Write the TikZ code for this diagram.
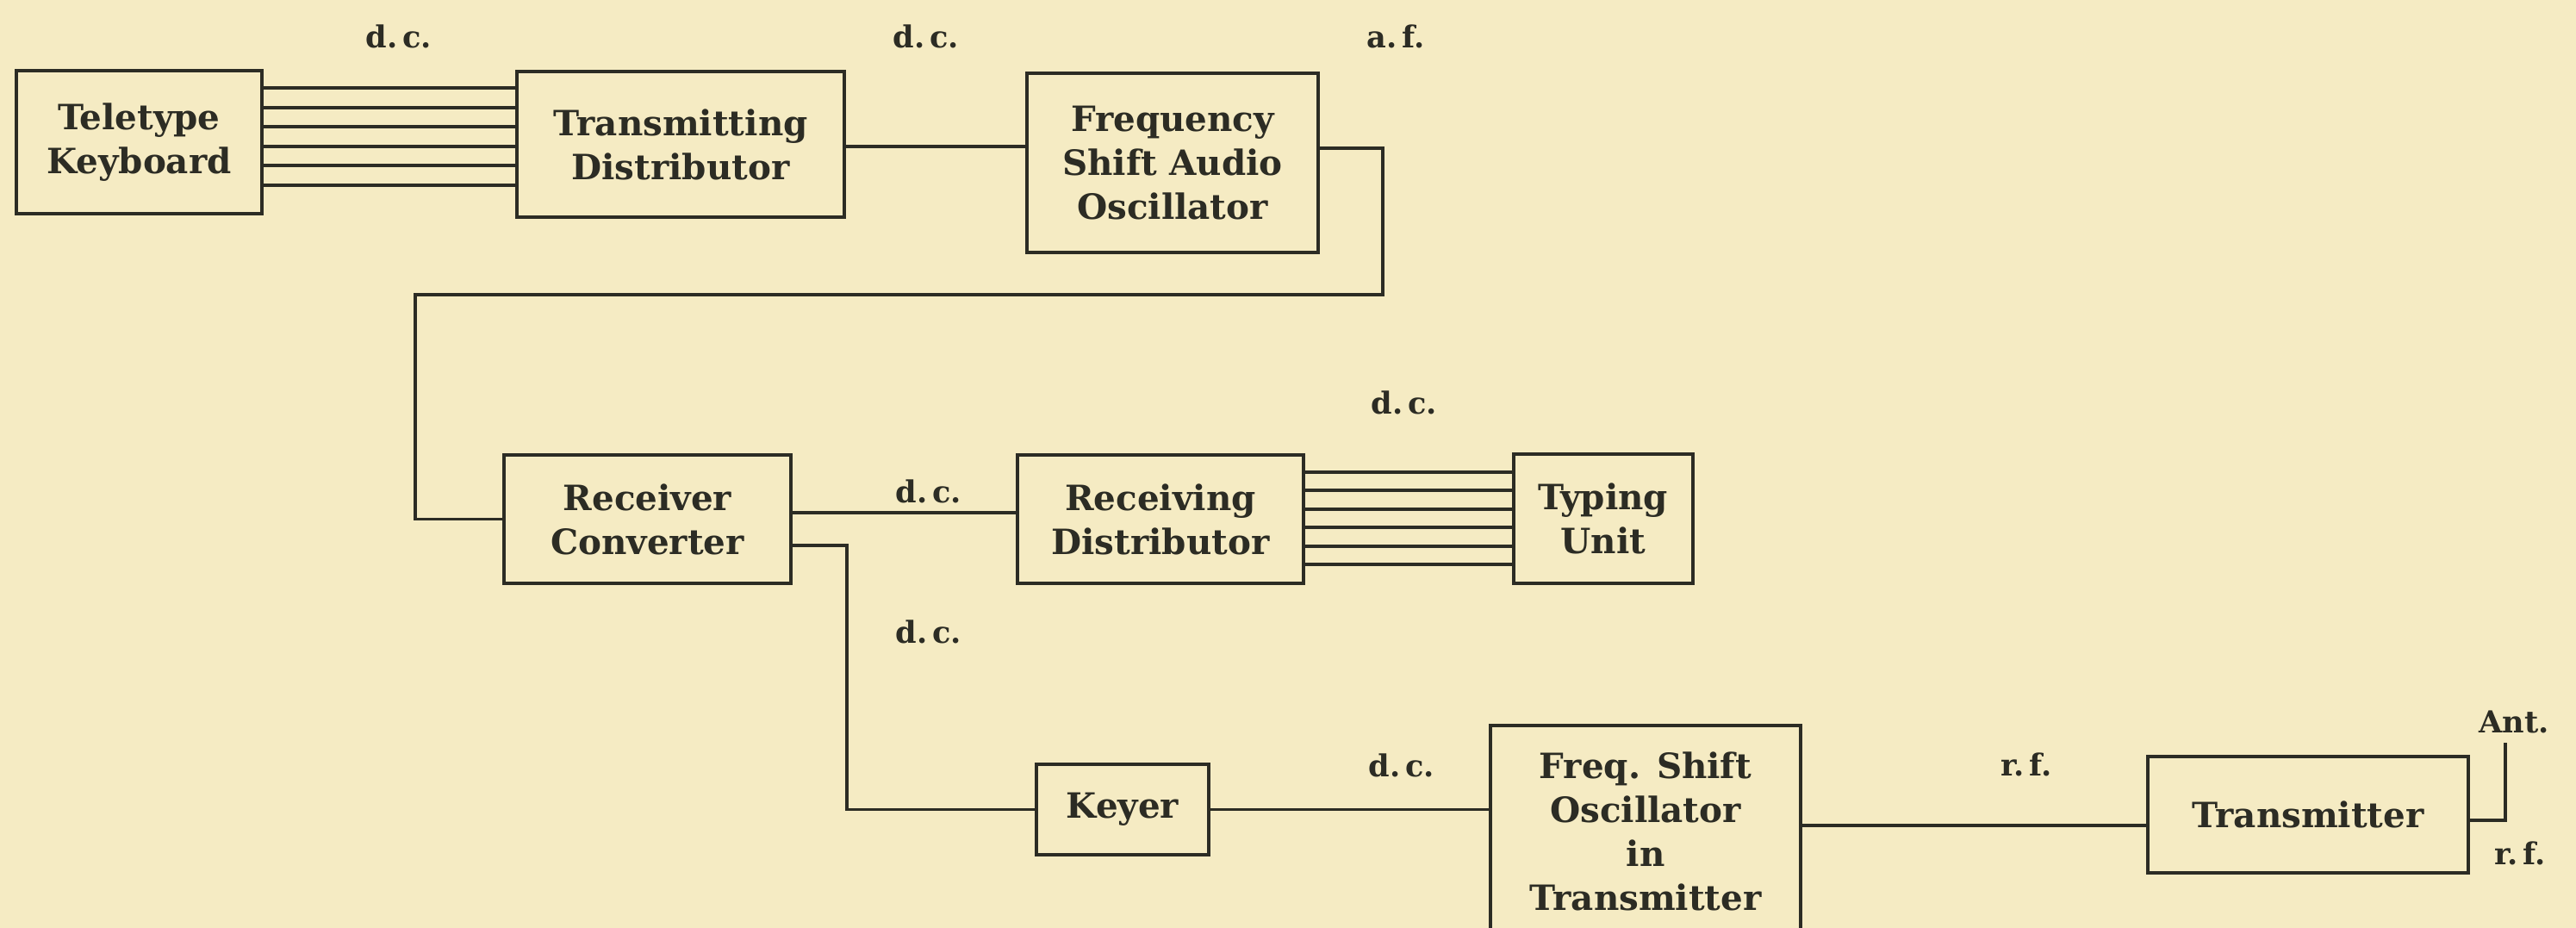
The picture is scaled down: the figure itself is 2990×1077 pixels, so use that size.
\documentclass[tikz,border=0pt]{standalone}
\usepackage{fontspec}
\setmainfont{DejaVu Serif}
\usetikzlibrary{calc}
\definecolor{paper}{HTML}{F5EBC3}
\definecolor{ink}{HTML}{2C2C24}

\begin{document}
\begin{tikzpicture}[
    x=0.1mm,y=-0.1mm,
    blk/.style  = {draw=ink, line width=1.2pt, align=center, text=ink,
                   font=\fontsize{11.5}{14.5}\selectfont\bfseries, inner sep=0pt},
    wire/.style = {ink, line width=1.1pt},
    lbl/.style  = {text=ink, font=\fontsize{10}{12}\selectfont\bfseries, inner sep=1pt},
  ]

  \fill[paper] (0,0) rectangle (2990,1077);
  \useasboundingbox (0,0) rectangle (2990,1077);
  \clip (0,0) rectangle (2990,1077);

  % sending side
  \node[blk,minimum width=28.5mm,minimum height=16.6mm] (tk)  at (161.5,165)  {Teletype\\Keyboard};
  \node[blk,minimum width=38mm,minimum height=16.9mm]   (td)  at (790,167.5)  {Transmitting\\Distributor};
  \node[blk,minimum width=33.8mm,minimum height=20.8mm] (fsa) at (1361,189)   {Frequency\\Shift Audio\\Oscillator};

  % receiving side
  \node[blk,minimum width=33.3mm,minimum height=14.9mm] (rc)  at (751.5,602.5) {Receiver\\Converter};
  \node[blk,minimum width=33.2mm,minimum height=14.9mm] (rd)  at (1347,602.5)  {Receiving\\Distributor};
  \node[blk,minimum width=20.8mm,minimum height=15mm]   (tu)  at (1861,602)    {Typing\\Unit};

  % radio path
  \node[blk,minimum width=20mm,minimum height=10.5mm]   (key) at (1303,939.5)  {Keyer};
  \node[blk,minimum width=36mm,minimum height=24.6mm]   (fso) at (1910,965)    {Freq. Shift\\Oscillator\\in\\Transmitter};
  \node[blk,minimum width=37.2mm,minimum height=13.5mm] (tx)  at (2679,945.5)  {Transmitter};

  \coordinate (ant) at (2908,862);

  \foreach \y in {102,124.6,147.2,169.8,192.4,215}
    \draw[wire] (tk.east |- 0,\y) -- (td.west |- 0,\y);
  \foreach \y in {548,569.4,590.8,612.2,633.6,655}
    \draw[wire] (rd.east |- 0,\y) -- (tu.west |- 0,\y);

  \draw[wire] (td.east |- 0,170) -- (fsa.west |- 0,170);
  \draw[wire] (fsa.east |- 0,172) -- (1605,172) -- (1605,342) -- (482,342) |- (rc.west);
  \draw[wire] (rc.east |- 0,595) -- (rd.west |- 0,595);
  \draw[wire] (rc.east |- 0,633) -- (983,633) |- (key.west);
  \draw[wire] (key.east) -- (key.east -| fso.west);
  \draw[wire] (fso.east |- 0,958) -- (tx.west |- 0,958);
  \draw[wire] (tx.east |- 0,952) -| (ant);

  \node[lbl] (l1) at (463,42)   {d.\,c.};
  \node[lbl] (l2) at (1075,42)  {d.\,c.};
  \node[lbl] (l3) at (1620,42)  {a.\,f.};
  \node[lbl] (l4) at (1630,467) {d.\,c.};
  \node[lbl] (l5) at (1078,570) {d.\,c.};
  \node[lbl] (l6) at (1078,733) {d.\,c.};
  \node[lbl] (l7) at (1627,888) {d.\,c.};
  \node[lbl] (l8) at (2352,887) {r.\,f.};
  \node[lbl] (l9) at (2918,838) {Ant.};
  \node[lbl] (l10) at (2925,990) {r.\,f.};

\end{tikzpicture}
\end{document}
